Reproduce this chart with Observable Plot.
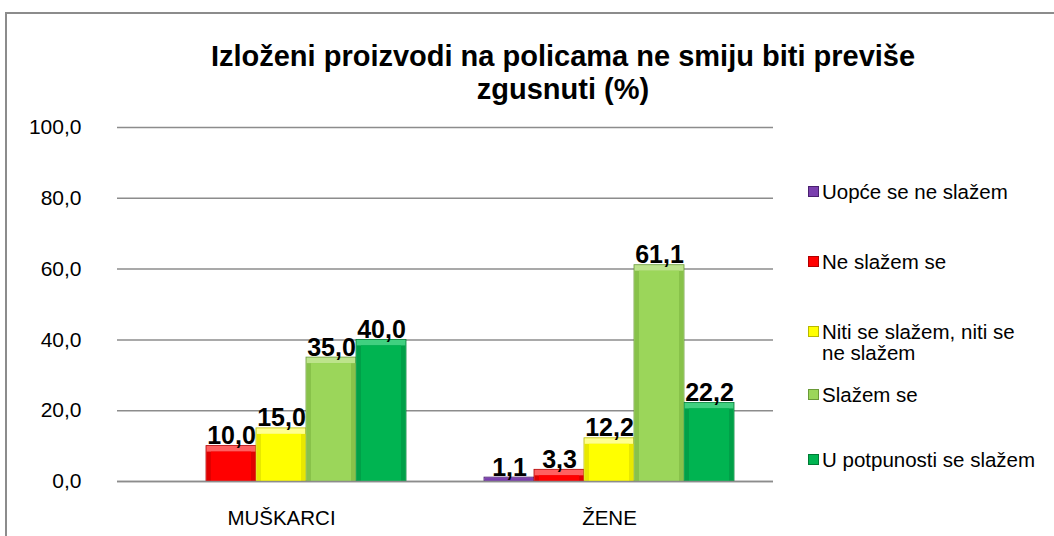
<!DOCTYPE html>
<html>
<head>
<meta charset="utf-8">
<script src="https://cdn.jsdelivr.net/npm/d3@7"></script>
<script src="https://cdn.jsdelivr.net/npm/@observablehq/plot@0.6"></script>
<style>
  body { margin: 0; background: #fff; font-family: "Liberation Sans", Arial, sans-serif; }
  #wrap { position: relative; width: 1054px; height: 536px; overflow: hidden; }
  #frame { position: absolute; left: 5px; top: 12px; width: 1200px; height: 700px; border: 2px solid #8c8c8c; box-sizing: border-box; }
  #title { position: absolute; left: 113px; width: 900px; top: 40px; text-align: center; font-weight: bold; font-size: 29px; line-height: 33px; color: #000; }
  #chart { position: absolute; left: 0; top: 0; }
  .leg { position: absolute; left: 808px; font-size: 20.5px; line-height: 21px; color: #000; width: 246px; }
  .leg .sw { position: absolute; left: 0; top: 5px; width: 11px; height: 11px; box-sizing: border-box; }
  .leg .tx { margin-left: 14px; display: block; }
</style>
</head>
<body>
<div id="wrap">
  <div id="frame"></div>
  <div id="title">Izloženi proizvodi na policama ne smiju biti previše<br>zgusnuti (%)</div>
  <div id="chart"></div>
  <div id="legend"></div>
</div>
<script>
const categories = ["MUŠKARCI", "ŽENE"];
const series = ["Uopće se ne slažem", "Ne slažem se", "Niti se slažem, niti se ne slažem", "Slažem se", "U potpunosti se slažem"];
const muskarci = [null, 10.0, 15.0, 35.0, 40.0];
const zene = [1.1, 3.3, 12.2, 61.1, 22.2];
const yTicks = [0, 20, 40, 60, 80, 100];

const colors = ["#7a3fae", "#ff0000", "#ffff00", "#9bd65a", "#00b451"];
const lightColors = ["#a874d0", "#ff6060", "#ffff90", "#bde48c", "#40d080"];
const darkColors = ["#6a3498", "#e00000", "#e8e800", "#88c24a", "#00a048"];
const outline = ["#4a2070", "#b00000", "#b8b800", "#6a9a38", "#007a34"];

const data = [];
categories.forEach((c, ci) => {
  const vals = ci === 0 ? muskarci : zene;
  series.forEach((s, si) => {
    if (vals[si] != null) data.push({cat: c, series: s, value: vals[si], si});
  });
});

const fmt = v => v.toFixed(1).replace(".", ",");

const chart = Plot.plot({
  width: 1054,
  height: 536,
  marginLeft: 117,
  marginRight: 281,
  marginTop: 127,
  marginBottom: 55,
  style: { fontFamily: "Liberation Sans, Arial, sans-serif", background: "transparent", overflow: "visible" },
  fx: { domain: categories, padding: 0, label: null, axis: null },
  x: { domain: series, paddingInner: 0, paddingOuter: 0.77, axis: null },
  y: { domain: [0, 100], ticks: yTicks, tickFormat: fmt, label: null, axis: null },
  marks: [
    Plot.gridY(yTicks, { stroke: "#8c8c8c", strokeOpacity: 1, strokeWidth: 1.5, facetAnchor: null }),
    Plot.axisY({ ticks: yTicks, tickFormat: fmt, tickSize: 0, tickPadding: 36, fontSize: 21, fill: "#000", label: null }),
    Plot.axisFx({ anchor: "bottom", tickSize: 0, tickPadding: 29, fontSize: 20.5, fill: "#000", label: null }),
    Plot.ruleX([{cat: categories[0]}], { fx: "cat", frameAnchor: "left", y1: 0, y2: 100, stroke: "#8c8c8c", strokeWidth: 1.5 }),
    // bevelled bars
    Plot.barY(data, { fx: "cat", x: "series", y: "value", fill: d => lightColors[d.si], stroke: d => outline[d.si], strokeWidth: 0.8 }),
    Plot.barY(data.filter(d => d.value > 2.5), { fx: "cat", x: "series", y: "value", fill: d => darkColors[d.si], insetTop: 6, insetLeft: 0.5, insetRight: 0.5 }),
    Plot.barY(data.filter(d => d.value > 2.5), { fx: "cat", x: "series", y: "value", fill: d => colors[d.si], insetTop: 6, insetLeft: 5, insetRight: 5 }),
    Plot.barY(data.filter(d => d.value <= 2.5), { fx: "cat", x: "series", y: "value", fill: d => colors[d.si], insetTop: 1, insetLeft: 1, insetRight: 1 }),
    Plot.text(data, { fx: "cat", x: "series", y: "value", text: d => fmt(d.value), lineAnchor: "bottom", dy: -2, fontSize: 25, fontWeight: "bold", fill: "#000" }),
    Plot.ruleY([0], { stroke: "#8c8c8c", strokeWidth: 1.5 })
  ]
});
document.getElementById("chart").appendChild(chart);

// legend
const legTops = [181, 251, 321, 384, 449];
const legend = document.getElementById("legend");
series.forEach((s, i) => {
  const div = document.createElement("div");
  div.className = "leg";
  div.style.top = legTops[i] + "px";
  const sw = document.createElement("span");
  sw.className = "sw";
  sw.style.background = colors[i];
  sw.style.border = "1.5px solid " + outline[i];
  const tx = document.createElement("span");
  tx.className = "tx";
  const cut = s.indexOf("niti se ne");
  if (cut >= 0) {
    tx.appendChild(document.createTextNode(s.slice(0, cut + 7)));
    tx.appendChild(document.createElement("br"));
    tx.appendChild(document.createTextNode(s.slice(cut + 8)));
  } else {
    tx.textContent = s;
  }
  div.appendChild(sw);
  div.appendChild(tx);
  legend.appendChild(div);
});
</script>
</body>
</html>
